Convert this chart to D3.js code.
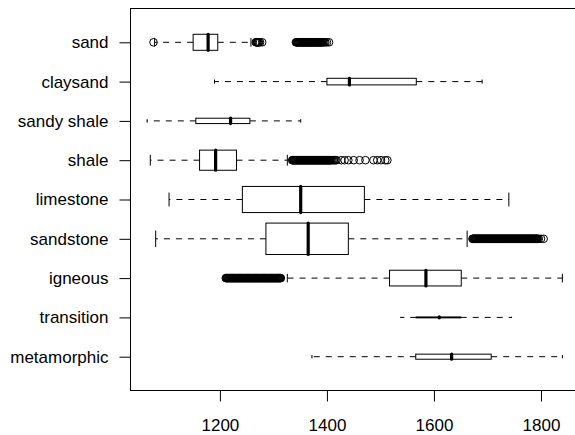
<!DOCTYPE html>
<html>
<head>
<meta charset="utf-8">
<script src="https://cdn.jsdelivr.net/npm/d3@7"></script>
<style>
  html, body { margin: 0; padding: 0; background: #fff; }
  svg { display: block; }
  text { font-family: "Liberation Sans", Arial, sans-serif; font-size: 17px; fill: #000; }
</style>
</head>
<body>
<div id="chart"></div>
<script>
// Box statistics per rock type (top to bottom)
const categories = ["sand", "claysand", "sandy shale", "shale", "limestone", "sandstone", "igneous", "transition", "metamorphic"];
const whiskerLow  = [1078, 1190, 1064, 1070, 1105, 1080, 1326, 1538, 1372];
const q1          = [1150, 1400, 1155, 1162, 1242, 1286, 1517, 1567, 1566];
const median      = [1178, 1442, 1220, 1192, 1351, 1365, 1585, 1610, 1633];
const q3          = [1196, 1567, 1256, 1231, 1470, 1440, 1651, 1650, 1707];
const whiskerHigh = [1258, 1690, 1351, 1326, 1740, 1662, 1840, 1745, 1840];
// group sizes (box height grows with sqrt(n))
const counts      = [2600, 440, 290, 4100, 6900, 10000, 2500, 9, 260];

// Outliers
const sandOut = [1076, 1267, 1268, 1269, 1270, 1271, 1272, 1273, 1275, 1279,
  1342, 1343, 1344, 1345, 1346, 1347, 1348, 1349, 1350, 1351, 1352, 1353, 1354, 1355, 1356, 1357,
  1358, 1359, 1360, 1361, 1362, 1363, 1364, 1365, 1366, 1367, 1368, 1369, 1370, 1371, 1372, 1373,
  1374, 1375, 1376, 1377, 1378, 1379, 1380, 1381, 1382, 1383, 1384, 1385, 1386, 1387, 1388, 1389,
  1390, 1392, 1393, 1395, 1397, 1400, 1404];
const shaleOut = [1335, 1336, 1337, 1338, 1339, 1340, 1341, 1342, 1343, 1344, 1345, 1346, 1347, 1348,
  1349, 1350, 1351, 1352, 1353, 1354, 1355, 1356, 1357, 1358, 1359, 1360, 1361, 1362, 1363, 1364,
  1365, 1366, 1367, 1368, 1369, 1370, 1371, 1372, 1373, 1374, 1375, 1376, 1377, 1378, 1379, 1380,
  1381, 1382, 1383, 1384, 1385, 1386, 1387, 1388, 1389, 1390, 1391, 1392, 1393, 1394, 1395, 1396,
  1397, 1398, 1399, 1400, 1401, 1402, 1403, 1404, 1405, 1406, 1407, 1408, 1410, 1412, 1414, 1416,
  1418, 1427, 1433, 1440, 1450, 1461, 1472, 1487, 1494, 1501, 1509, 1513];
const sandstoneOut = [1672, 1673, 1674, 1675, 1676, 1677, 1678, 1679, 1680, 1681, 1682, 1683, 1684,
  1685, 1686, 1687, 1688, 1689, 1690, 1691, 1692, 1693, 1694, 1695, 1696, 1697, 1698, 1699, 1700,
  1701, 1702, 1703, 1704, 1705, 1706, 1707, 1708, 1709, 1710, 1711, 1712, 1713, 1714, 1715, 1716,
  1717, 1718, 1719, 1720, 1721, 1722, 1723, 1724, 1725, 1726, 1727, 1728, 1729, 1730, 1731, 1732,
  1733, 1734, 1735, 1736, 1737, 1738, 1739, 1740, 1741, 1742, 1743, 1744, 1745, 1746, 1747, 1748,
  1749, 1750, 1751, 1752, 1753, 1754, 1755, 1756, 1757, 1758, 1759, 1760, 1761, 1762, 1763, 1764,
  1765, 1766, 1767, 1768, 1769, 1770, 1771, 1772, 1773, 1774, 1775, 1776, 1777, 1778, 1779, 1780,
  1781, 1782, 1783, 1784, 1785, 1786, 1787, 1788, 1789, 1790, 1791, 1792, 1793, 1794, 1796, 1800, 1805];
const igneousOut = [1211, 1212, 1213, 1214, 1215, 1216, 1217, 1218, 1219, 1220, 1221, 1222, 1223,
  1224, 1225, 1226, 1227, 1228, 1229, 1230, 1231, 1232, 1233, 1234, 1235, 1236, 1237, 1238, 1239,
  1240, 1241, 1242, 1243, 1244, 1245, 1246, 1247, 1248, 1249, 1250, 1251, 1252, 1253, 1254, 1255,
  1256, 1257, 1258, 1259, 1260, 1261, 1262, 1263, 1264, 1265, 1266, 1267, 1268, 1269, 1270, 1271,
  1272, 1273, 1274, 1275, 1276, 1277, 1278, 1279, 1280, 1281, 1282, 1283, 1284, 1285, 1286, 1287,
  1288, 1289, 1290, 1291, 1292, 1293, 1294, 1295, 1296, 1297, 1298, 1299, 1300, 1301, 1302, 1303,
  1304, 1305, 1306, 1307, 1308, 1309, 1310, 1311, 1312, 1313, 1314];
const outliers = [sandOut, [], [], shaleOut, [], sandstoneOut, igneousOut, [], []];

const xTicks = [1200, 1400, 1600, 1800];

function drawChart() {
    const width = 575;
    const height = 435;
    const plot = { left: 130.5, right: 579, top: 8.5, bottom: 390.5 };
    const fontCss = "'Liberation Sans', Arial, sans-serif";

    const svg = d3.select("#chart")
        .append("svg")
        .attr("width", width)
        .attr("height", height);

    // R style: extend data range by 4% on each side
    const allVals = whiskerLow.concat(whiskerHigh, outliers.flat());
    const [lo, hi] = d3.extent(allVals);
    const pad = (hi - lo) * 0.04;
    const x = d3.scaleLinear().domain([lo - pad, hi + pad]).range([plot.left, plot.right]);

    // positions 1..n inside [0.5, n + 0.5] extended by 4%
    const n = categories.length;
    const y = d3.scaleLinear()
        .domain([0.5 - n * 0.04, n + 0.5 + n * 0.04])
        .range([plot.top, plot.bottom]);
    const unit = Math.abs(y(2) - y(1));
    const maxSqrt = Math.sqrt(d3.max(counts));

    const rows = categories.map((c, i) => ({
        name: c,
        pos: i + 1,
        lo: whiskerLow[i], q1: q1[i], med: median[i], q3: q3[i], hi: whiskerHigh[i],
        half: 0.4 * unit * Math.sqrt(counts[i]) / maxSqrt,
        out: outliers[i]
    }));

    const g = svg.append("g").attr("fill", "none").attr("stroke", "#000");
    const row = g.selectAll("g.row").data(rows).join("g").attr("class", "row");

    // whiskers (dashed)
    row.append("line")
        .attr("x1", d => x(d.q1)).attr("x2", d => x(d.lo))
        .attr("y1", d => y(d.pos)).attr("y2", d => y(d.pos))
        .attr("stroke-dasharray", "6,6");
    row.append("line")
        .attr("x1", d => x(d.q3)).attr("x2", d => x(d.hi))
        .attr("y1", d => y(d.pos)).attr("y2", d => y(d.pos))
        .attr("stroke-dasharray", "6,6");

    // staples
    row.append("line")
        .attr("x1", d => x(d.lo)).attr("x2", d => x(d.lo))
        .attr("y1", d => y(d.pos) - d.half / 2).attr("y2", d => y(d.pos) + d.half / 2)
        .attr("stroke-linecap", "round");
    row.append("line")
        .attr("x1", d => x(d.hi)).attr("x2", d => x(d.hi))
        .attr("y1", d => y(d.pos) - d.half / 2).attr("y2", d => y(d.pos) + d.half / 2)
        .attr("stroke-linecap", "round");

    // boxes
    row.append("rect")
        .attr("x", d => x(d.q1))
        .attr("width", d => x(d.q3) - x(d.q1))
        .attr("y", d => y(d.pos) - d.half)
        .attr("height", d => 2 * d.half)
        .attr("fill", "#fff");

    // medians
    row.append("line")
        .attr("x1", d => x(d.med)).attr("x2", d => x(d.med))
        .attr("y1", d => y(d.pos) - d.half).attr("y2", d => y(d.pos) + d.half)
        .attr("stroke-width", 3.2)
        .attr("stroke-linecap", "round");

    // outliers
    row.each(function (d) {
        d3.select(this).selectAll("circle")
            .data(d.out)
            .join("circle")
            .attr("cx", v => x(v))
            .attr("cy", y(d.pos))
            .attr("r", 3.8);
    });

    // plot frame
    svg.append("rect")
        .attr("x", plot.left).attr("y", plot.top)
        .attr("width", plot.right - plot.left)
        .attr("height", plot.bottom - plot.top)
        .attr("fill", "none").attr("stroke", "#000");

    // x axis
    const xAxis = svg.append("g").attr("transform", `translate(0,${plot.bottom})`)
        .call(d3.axisBottom(x).tickValues(xTicks).tickSize(11).tickPadding(17).tickFormat(d3.format("d")));
    xAxis.select(".domain").remove();
    xAxis.selectAll("text").style("font-size", "17px").style("font-family", fontCss);

    // y axis
    const yAxis = svg.append("g").attr("transform", `translate(${plot.left},0)`)
        .call(d3.axisLeft(y).tickValues(rows.map(d => d.pos)).tickSize(11).tickPadding(11)
            .tickFormat((d, i) => categories[i]));
    yAxis.select(".domain").remove();
    yAxis.selectAll("text").style("font-size", "17px").style("font-family", fontCss);
}

drawChart();
</script>
</body>
</html>
